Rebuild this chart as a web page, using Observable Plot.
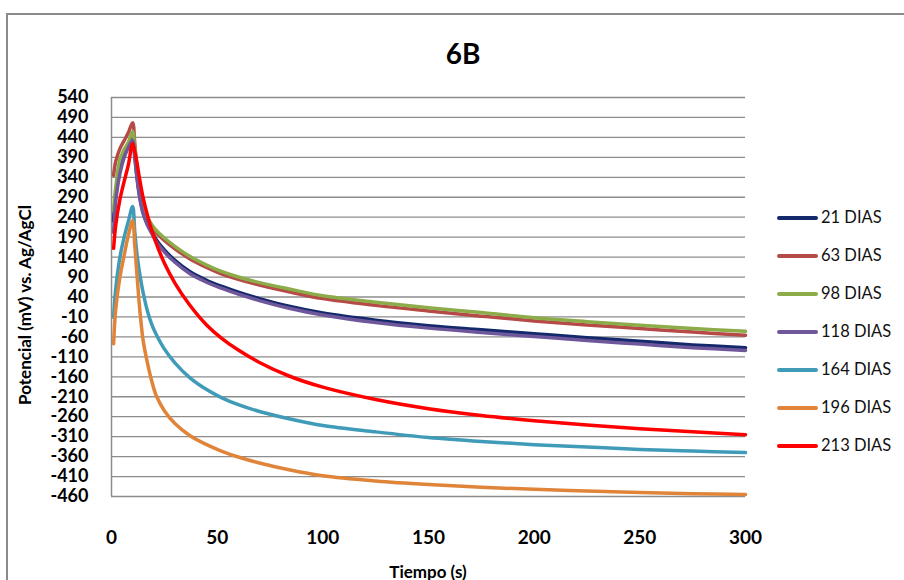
<!DOCTYPE html>
<html>
<head>
<meta charset="utf-8">
<script src="https://cdn.jsdelivr.net/npm/d3@7"></script>
<script src="https://cdn.jsdelivr.net/npm/@observablehq/plot@0.6"></script>
<style>
  html, body { margin: 0; padding: 0; background: #fff; }
  #page { position: relative; width: 904px; height: 580px; overflow: hidden; font-family: Lato, "Open Sans", sans-serif; }
  #frame { position: absolute; left: 6px; top: 13px; width: 1000px; height: 800px; border-left: 2px solid #8a8a8a; border-top: 2px solid #8a8a8a; }
  #title { position: absolute; left: 363px; width: 200px; top: 36px; text-align: center; font-weight: 700; font-size: 28px; color: #000; }
  #chart { position: absolute; left: 0; top: 80px; }
  #ylabel { position: absolute; left: 24px; top: 305px; transform: translate(-50%, -50%) rotate(-90deg); white-space: nowrap; font-weight: 700; font-size: 17px; color: #000; }
  #xlabel { position: absolute; left: 428px; top: 571px; transform: translate(-50%, -50%); white-space: nowrap; font-weight: 700; font-size: 17px; color: #000; }
  #legend { position: absolute; left: 777px; top: 206px; }
  .item { position: relative; height: 38px; }
  .sw { position: absolute; left: 0; top: 10px; width: 41px; height: 4px; border-radius: 2px; }
  .lab { position: absolute; left: 44px; top: 1px; font-size: 16.5px; color: #111; white-space: nowrap; }
</style>
</head>
<body>
<div id="page">
  <div id="frame"></div>
  <div id="title">6B</div>
  <div id="chart"></div>
  <div id="ylabel">Potencial (mV) vs. Ag/AgCl</div>
  <div id="xlabel">Tiempo (s)</div>
  <div id="legend"></div>
</div>
<script>
// Time points (s)
const times = [1, 2, 4, 6, 8, 10, 11, 12, 13, 14, 15, 17, 19, 21, 25, 30, 37, 45, 52, 60, 70, 84, 100, 125, 150, 175, 200, 225, 250, 275, 300];

// Potential (mV vs Ag/AgCl) for each series
const dias21  = [230, 300, 360, 395, 420, 440, 395, 345, 305, 275, 252, 225, 205, 185, 158, 132, 104, 82, 67, 52, 36, 17, 0, -18, -32, -42, -52, -62, -71, -80, -87];
const dias63  = [345, 380, 412, 432, 452, 477, 425, 368, 325, 292, 266, 236, 216, 202, 182, 161, 136, 114, 98, 84, 70, 53, 36, 19, 5, -8, -20, -30, -39, -48, -56];
const dias98  = [257, 315, 385, 410, 428, 455, 415, 362, 322, 292, 268, 240, 222, 208, 188, 167, 142, 120, 104, 90, 76, 60, 43, 27, 13, 1, -12, -22, -31, -39, -46];
const dias118 = [202, 280, 350, 390, 415, 432, 390, 340, 300, 270, 248, 220, 200, 180, 153, 127, 99, 77, 62, 47, 31, 12, -5, -24, -38, -49, -59, -69, -78, -87, -94];
const dias164 = [-11, 60, 140, 190, 230, 267, 205, 150, 110, 78, 50, 5, -28, -52, -90, -125, -162, -192, -212, -230, -247, -265, -282, -298, -312, -322, -330, -336, -342, -346, -350];
const dias196 = [-77, 10, 90, 145, 195, 232, 170, 100, 31, -25, -70, -125, -170, -205, -245, -277, -307, -330, -346, -361, -376, -393, -408, -421, -430, -437, -442, -446, -450, -453, -455];
const dias213 = [162, 220, 285, 330, 372, 425, 405, 378, 345, 315, 288, 245, 208, 177, 125, 75, 20, -30, -63, -93, -124, -158, -186, -217, -240, -257, -270, -281, -290, -298, -305];

const seriesNames = ["21 DIAS", "63 DIAS", "98 DIAS", "118 DIAS", "164 DIAS", "196 DIAS", "213 DIAS"];
const seriesValues = [dias21, dias63, dias98, dias118, dias164, dias196, dias213];
const seriesColors = ["#13296b", "#b54a46", "#8cab49", "#6f579b", "#3f9bb8", "#e0843a", "#ff0000"];

const yTicks = [540, 490, 440, 390, 340, 290, 240, 190, 140, 90, 40, -10, -60, -110, -160, -210, -260, -310, -360, -410, -460];
const xTicks = [0, 50, 100, 150, 200, 250, 300];

const rows = [];
seriesNames.forEach((name, i) => {
  times.forEach((t, j) => rows.push({serie: name, t, v: seriesValues[i][j]}));
});

const chart = Plot.plot({
  width: 904,
  height: 500,
  marginTop: 17,
  marginBottom: 84,
  marginLeft: 111,
  marginRight: 159,
  style: {fontFamily: "Lato, 'Open Sans', sans-serif", background: "transparent"},
  x: {domain: [0, 300], ticks: xTicks, tickSize: 0, tickPadding: 34, label: null},
  y: {domain: [-460, 540], ticks: yTicks, tickSize: 0, tickPadding: 23, label: null, tickFormat: d => String(d)},
  color: {domain: seriesNames, range: seriesColors},
  marks: [
    Plot.ruleY(yTicks, {stroke: "#8c8c8c", strokeWidth: 1.3}),
    Plot.ruleX([0], {stroke: "#8c8c8c", strokeWidth: 1.5}),
    Plot.line(rows, {x: "t", y: "v", z: "serie", stroke: "serie", strokeWidth: 3.5, curve: "catmull-rom", strokeLinejoin: "round", strokeLinecap: "round"}),
    Plot.axisX({ticks: xTicks, tickSize: 0, tickPadding: 34, fontSize: 19, fontWeight: 700, fill: "#000", label: null}),
    Plot.axisY({ticks: yTicks, tickSize: 0, tickPadding: 23, fontSize: 18, fontWeight: 700, fill: "#000", label: null, tickFormat: d => String(d)})
  ]
});
document.getElementById("chart").appendChild(chart);

const legend = document.getElementById("legend");
seriesNames.forEach((name, i) => {
  const item = document.createElement("div");
  item.className = "item";
  const sw = document.createElement("div");
  sw.className = "sw";
  sw.style.background = seriesColors[i];
  const lab = document.createElement("div");
  lab.className = "lab";
  lab.textContent = name;
  item.appendChild(sw);
  item.appendChild(lab);
  legend.appendChild(item);
});
</script>
</body>
</html>
